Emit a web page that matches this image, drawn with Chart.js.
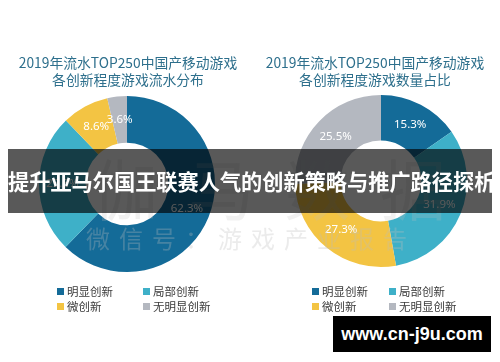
<!DOCTYPE html>
<html>
<head>
<meta charset="utf-8">
<script src="https://cdn.jsdelivr.net/npm/chart.js@4"></script>
<style>
  html, body { margin: 0; padding: 0; background: #fff; }
  #wrap { position: relative; width: 500px; height: 362px; overflow: hidden; font-family: "Noto Sans CJK SC", "Noto Sans", sans-serif; }
  canvas { position: absolute; top: 0; }
  .title { position: absolute; top: 54px; width: 250px; text-align: center; color: #2d6f8c; font-size: 13.8px; line-height: 17px; }
  .legend { position: absolute; top: 284px; font-size: 11.5px; color: #3a3a3a; }
  .legend span { position: absolute; white-space: nowrap; line-height: 14px; }
  .legend i { display: inline-block; width: 7px; height: 7px; margin-right: 3px; vertical-align: 1px; }
  #mark1 { position: absolute; left: 92px; top: 138px; font-size: 66px; letter-spacing: 30px; color: rgba(190,190,190,0.22); white-space: nowrap; }
  #mark2 { position: absolute; left: 86px; top: 220px; font-size: 24px; letter-spacing: 9px; color: rgba(190,190,190,0.3); white-space: nowrap; }
  #banner { position: absolute; left: 8px; top: 149px; width: 484px; height: 64px; background: rgba(0,0,0,0.65); color: #fff; font-weight: bold; font-size: 21.2px; line-height: 64px; text-align: center; white-space: nowrap; }
  #site { position: absolute; left: 333px; top: 316px; width: 158px; height: 36px; background: #000; color: #fff; font-family: "Liberation Sans", sans-serif; font-weight: bold; font-size: 18px; line-height: 36px; text-align: center; }
</style>
</head>
<body>
<div id="wrap">
  <canvas id="leftChart" width="250" height="362" style="left:0"></canvas>
  <canvas id="rightChart" width="250" height="362" style="left:250px"></canvas>
  <div class="title" style="left:3px">2019年流水TOP250中国产移动游戏<br>各创新程度游戏流水分布</div>
  <div class="title" style="left:250px">2019年流水TOP250中国产移动游戏<br>各创新程度游戏数量占比</div>
  <div class="legend" id="leftLegend" style="left:0"></div>
  <div class="legend" id="rightLegend" style="left:250px"></div>
  <div id="mark1">伽马数据</div>
  <div id="mark2">微信号：游戏产业报告</div>
  <div id="banner">提升亚马尔国王联赛人气的创新策略与推广路径探析</div>
  <div id="site">www.cn-j9u.com</div>
</div>
<script>
const categories = ['明显创新', '局部创新', '微创新', '无明显创新'];
const revenueShare = [62.3, 25.5, 8.6, 3.6];   // 流水分布 (%)
const countShare = [15.3, 31.9, 27.3, 25.5];   // 数量占比 (%)
const sliceColors = ['#146b98', '#3eb0c8', '#f3c443', '#b4b8c0'];

// percent labels at the middle of each slice
const sliceLabels = {
    id: 'sliceLabels',
    afterDatasetsDraw(chart) {
        const c = chart.ctx;
        const meta = chart.getDatasetMeta(0);
        c.save();
        c.fillStyle = '#fff';
        c.font = '11.5px "Noto Sans", sans-serif';
        c.textAlign = 'center';
        c.textBaseline = 'middle';
        meta.data.forEach((arc, i) => {
            const p = arc.tooltipPosition();
            c.fillText(chart.data.datasets[0].data[i].toFixed(1) + '%', p.x, p.y);
        });
        c.restore();
    }
};

function makeDoughnut(id, values, padding) {
    return new Chart(document.getElementById(id).getContext('2d'), {
        type: 'doughnut',
        data: {
            labels: categories,
            datasets: [{
                data: values,
                backgroundColor: sliceColors,
                borderWidth: 0
            }]
        },
        options: {
            responsive: false,
            animation: false,
            cutout: '47%',
            layout: { padding: padding },
            plugins: {
                legend: { display: false },
                tooltip: { enabled: false }
            }
        },
        plugins: [sliceLabels]
    });
}

makeDoughnut('leftChart', revenueShare, { left: 39, right: 35, top: 96, bottom: 90 });
makeDoughnut('rightChart', countShare, { left: 45, right: 33, top: 95, bottom: 95 });

// 2x2 legends
function buildLegend(id, cols) {
    const box = document.getElementById(id);
    categories.forEach((name, i) => {
        const s = document.createElement('span');
        s.style.left = cols[i % 2] + 'px';
        s.style.top = (Math.floor(i / 2) * 15) + 'px';
        s.innerHTML = '<i style="background:' + sliceColors[i] + '"></i>' + name;
        box.appendChild(s);
    });
}
buildLegend('leftLegend', [57, 143]);
buildLegend('rightLegend', [62, 139]);
</script>
</body>
</html>
